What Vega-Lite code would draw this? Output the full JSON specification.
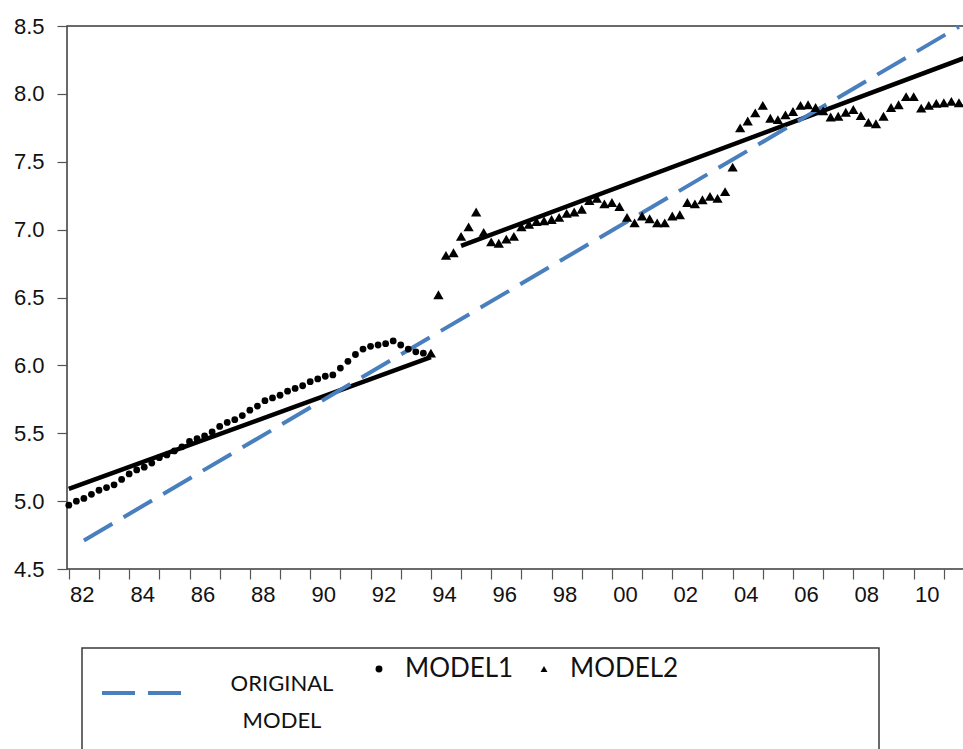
{
  "$schema": "https://vega.github.io/schema/vega-lite/v6.json",
  "autosize": {"type": "pad"},
  "padding": {"left": 11, "top": 14, "right": 0, "bottom": 0},
  "background": "white",
  "columns": 1,
  "bounds": "full",
  "spacing": 41,
  "config": {
    "font": "Liberation Sans",
    "view": {"stroke": "#3a3a3a", "strokeWidth": 1.5},
    "axis": {
      "domainColor": "#3a3a3a", "domainWidth": 1.5, "tickColor": "#555555", "tickWidth": 1.2,
      "tickSize": 10, "labelFont": "Liberation Sans", "labelFontSize": 22, "labelColor": "#111111",
      "grid": false, "title": null
    },
    "legend": {"padding": 0, "title": null, "labelColor": "#111111"}
  },
  "datasets": {
    "orig": [
      {"t": 1982.5, "v": 4.71, "series": "ORIGINAL MODEL"},
      {"t": 2011.5, "v": 8.495, "series": "ORIGINAL MODEL"}
    ],
    "fit": [
      {"t": 1982.0, "v": 5.09, "seg": "A"},
      {"t": 1994.0, "v": 6.06, "seg": "A"},
      {"t": 1995.0, "v": 6.88, "seg": "B"},
      {"t": 2011.75, "v": 8.27, "seg": "B"}
    ],
    "m1": [
      {"t": 1982.00, "v": 4.97, "series": "MODEL1"},
      {"t": 1982.25, "v": 5.00, "series": "MODEL1"},
      {"t": 1982.50, "v": 5.02, "series": "MODEL1"},
      {"t": 1982.75, "v": 5.05, "series": "MODEL1"},
      {"t": 1983.00, "v": 5.08, "series": "MODEL1"},
      {"t": 1983.25, "v": 5.10, "series": "MODEL1"},
      {"t": 1983.50, "v": 5.12, "series": "MODEL1"},
      {"t": 1983.75, "v": 5.16, "series": "MODEL1"},
      {"t": 1984.00, "v": 5.20, "series": "MODEL1"},
      {"t": 1984.25, "v": 5.23, "series": "MODEL1"},
      {"t": 1984.50, "v": 5.25, "series": "MODEL1"},
      {"t": 1984.75, "v": 5.28, "series": "MODEL1"},
      {"t": 1985.00, "v": 5.32, "series": "MODEL1"},
      {"t": 1985.25, "v": 5.34, "series": "MODEL1"},
      {"t": 1985.50, "v": 5.37, "series": "MODEL1"},
      {"t": 1985.75, "v": 5.40, "series": "MODEL1"},
      {"t": 1986.00, "v": 5.44, "series": "MODEL1"},
      {"t": 1986.25, "v": 5.46, "series": "MODEL1"},
      {"t": 1986.50, "v": 5.48, "series": "MODEL1"},
      {"t": 1986.75, "v": 5.51, "series": "MODEL1"},
      {"t": 1987.00, "v": 5.55, "series": "MODEL1"},
      {"t": 1987.25, "v": 5.58, "series": "MODEL1"},
      {"t": 1987.50, "v": 5.60, "series": "MODEL1"},
      {"t": 1987.75, "v": 5.63, "series": "MODEL1"},
      {"t": 1988.00, "v": 5.67, "series": "MODEL1"},
      {"t": 1988.25, "v": 5.70, "series": "MODEL1"},
      {"t": 1988.50, "v": 5.74, "series": "MODEL1"},
      {"t": 1988.75, "v": 5.76, "series": "MODEL1"},
      {"t": 1989.00, "v": 5.78, "series": "MODEL1"},
      {"t": 1989.25, "v": 5.81, "series": "MODEL1"},
      {"t": 1989.50, "v": 5.83, "series": "MODEL1"},
      {"t": 1989.75, "v": 5.85, "series": "MODEL1"},
      {"t": 1990.00, "v": 5.88, "series": "MODEL1"},
      {"t": 1990.25, "v": 5.90, "series": "MODEL1"},
      {"t": 1990.50, "v": 5.92, "series": "MODEL1"},
      {"t": 1990.75, "v": 5.93, "series": "MODEL1"},
      {"t": 1991.00, "v": 5.98, "series": "MODEL1"},
      {"t": 1991.25, "v": 6.03, "series": "MODEL1"},
      {"t": 1991.50, "v": 6.08, "series": "MODEL1"},
      {"t": 1991.75, "v": 6.12, "series": "MODEL1"},
      {"t": 1992.00, "v": 6.14, "series": "MODEL1"},
      {"t": 1992.25, "v": 6.15, "series": "MODEL1"},
      {"t": 1992.50, "v": 6.16, "series": "MODEL1"},
      {"t": 1992.75, "v": 6.18, "series": "MODEL1"},
      {"t": 1993.00, "v": 6.15, "series": "MODEL1"},
      {"t": 1993.25, "v": 6.12, "series": "MODEL1"},
      {"t": 1993.50, "v": 6.10, "series": "MODEL1"},
      {"t": 1993.75, "v": 6.09, "series": "MODEL1"}
    ],
    "m2": [
      {"t": 1994.00, "v": 6.09, "series": "MODEL2"},
      {"t": 1994.25, "v": 6.52, "series": "MODEL2"},
      {"t": 1994.50, "v": 6.81, "series": "MODEL2"},
      {"t": 1994.75, "v": 6.83, "series": "MODEL2"},
      {"t": 1995.00, "v": 6.95, "series": "MODEL2"},
      {"t": 1995.25, "v": 7.02, "series": "MODEL2"},
      {"t": 1995.50, "v": 7.13, "series": "MODEL2"},
      {"t": 1995.75, "v": 6.98, "series": "MODEL2"},
      {"t": 1996.00, "v": 6.91, "series": "MODEL2"},
      {"t": 1996.25, "v": 6.90, "series": "MODEL2"},
      {"t": 1996.50, "v": 6.93, "series": "MODEL2"},
      {"t": 1996.75, "v": 6.95, "series": "MODEL2"},
      {"t": 1997.00, "v": 7.02, "series": "MODEL2"},
      {"t": 1997.25, "v": 7.04, "series": "MODEL2"},
      {"t": 1997.50, "v": 7.06, "series": "MODEL2"},
      {"t": 1997.75, "v": 7.065, "series": "MODEL2"},
      {"t": 1998.00, "v": 7.075, "series": "MODEL2"},
      {"t": 1998.25, "v": 7.09, "series": "MODEL2"},
      {"t": 1998.50, "v": 7.12, "series": "MODEL2"},
      {"t": 1998.75, "v": 7.13, "series": "MODEL2"},
      {"t": 1999.00, "v": 7.15, "series": "MODEL2"},
      {"t": 1999.25, "v": 7.215, "series": "MODEL2"},
      {"t": 1999.50, "v": 7.23, "series": "MODEL2"},
      {"t": 1999.75, "v": 7.19, "series": "MODEL2"},
      {"t": 2000.00, "v": 7.20, "series": "MODEL2"},
      {"t": 2000.25, "v": 7.17, "series": "MODEL2"},
      {"t": 2000.50, "v": 7.09, "series": "MODEL2"},
      {"t": 2000.75, "v": 7.05, "series": "MODEL2"},
      {"t": 2001.00, "v": 7.10, "series": "MODEL2"},
      {"t": 2001.25, "v": 7.08, "series": "MODEL2"},
      {"t": 2001.50, "v": 7.05, "series": "MODEL2"},
      {"t": 2001.75, "v": 7.05, "series": "MODEL2"},
      {"t": 2002.00, "v": 7.10, "series": "MODEL2"},
      {"t": 2002.25, "v": 7.11, "series": "MODEL2"},
      {"t": 2002.50, "v": 7.20, "series": "MODEL2"},
      {"t": 2002.75, "v": 7.19, "series": "MODEL2"},
      {"t": 2003.00, "v": 7.22, "series": "MODEL2"},
      {"t": 2003.25, "v": 7.245, "series": "MODEL2"},
      {"t": 2003.50, "v": 7.23, "series": "MODEL2"},
      {"t": 2003.75, "v": 7.28, "series": "MODEL2"},
      {"t": 2004.00, "v": 7.46, "series": "MODEL2"},
      {"t": 2004.25, "v": 7.75, "series": "MODEL2"},
      {"t": 2004.50, "v": 7.80, "series": "MODEL2"},
      {"t": 2004.75, "v": 7.86, "series": "MODEL2"},
      {"t": 2005.00, "v": 7.915, "series": "MODEL2"},
      {"t": 2005.25, "v": 7.82, "series": "MODEL2"},
      {"t": 2005.50, "v": 7.81, "series": "MODEL2"},
      {"t": 2005.75, "v": 7.845, "series": "MODEL2"},
      {"t": 2006.00, "v": 7.87, "series": "MODEL2"},
      {"t": 2006.25, "v": 7.915, "series": "MODEL2"},
      {"t": 2006.50, "v": 7.92, "series": "MODEL2"},
      {"t": 2006.75, "v": 7.90, "series": "MODEL2"},
      {"t": 2007.00, "v": 7.875, "series": "MODEL2"},
      {"t": 2007.25, "v": 7.83, "series": "MODEL2"},
      {"t": 2007.50, "v": 7.835, "series": "MODEL2"},
      {"t": 2007.75, "v": 7.865, "series": "MODEL2"},
      {"t": 2008.00, "v": 7.885, "series": "MODEL2"},
      {"t": 2008.25, "v": 7.84, "series": "MODEL2"},
      {"t": 2008.50, "v": 7.79, "series": "MODEL2"},
      {"t": 2008.75, "v": 7.78, "series": "MODEL2"},
      {"t": 2009.00, "v": 7.835, "series": "MODEL2"},
      {"t": 2009.25, "v": 7.90, "series": "MODEL2"},
      {"t": 2009.50, "v": 7.92, "series": "MODEL2"},
      {"t": 2009.75, "v": 7.98, "series": "MODEL2"},
      {"t": 2010.00, "v": 7.98, "series": "MODEL2"},
      {"t": 2010.25, "v": 7.895, "series": "MODEL2"},
      {"t": 2010.50, "v": 7.915, "series": "MODEL2"},
      {"t": 2010.75, "v": 7.93, "series": "MODEL2"},
      {"t": 2011.00, "v": 7.935, "series": "MODEL2"},
      {"t": 2011.25, "v": 7.945, "series": "MODEL2"},
      {"t": 2011.50, "v": 7.935, "series": "MODEL2"},
      {"t": 2011.75, "v": 7.94, "series": "MODEL2"}
    ]
  },
  "concat": [
    {
      "width": 904,
      "height": 543,
      "encoding": {
        "x": {
          "field": "t", "type": "quantitative",
          "scale": {"domain": [1981.94, 2011.9], "nice": false, "zero": false},
          "axis": {
            "values": [1982,1983,1984,1985,1986,1987,1988,1989,1990,1991,1992,1993,1994,1995,1996,1997,1998,1999,2000,2001,2002,2003,2004,2005,2006,2007,2008,2009,2010,2011],
            "labelExpr": "datum.value % 2 == 0 ? slice(toString(datum.value), 2) : ''",
            "labelOffset": 13, "labelPadding": 5, "labelOverlap": false, "labelFlush": false,
            "labelBound": false, "domain": false
          }
        },
        "y": {
          "field": "v", "type": "quantitative",
          "scale": {"domain": [4.5, 8.5], "nice": false, "zero": false},
          "axis": {
            "values": [4.5, 5.0, 5.5, 6.0, 6.5, 7.0, 7.5, 8.0, 8.5],
            "format": ".1f", "labelPadding": 13, "domain": false,
            "minExtent": 55, "maxExtent": 55
          }
        }
      },
      "layer": [
        {
          "data": {"name": "fit"},
          "mark": {"type": "line", "color": "#000000", "strokeWidth": 4.5, "strokeCap": "butt"},
          "encoding": {"detail": {"field": "seg", "type": "nominal"}}
        },
        {
          "data": {"name": "orig"},
          "mark": {"type": "line", "color": "#4a7fbd", "strokeWidth": 4, "strokeCap": "butt"},
          "encoding": {
            "strokeDash": {
              "field": "series", "type": "nominal",
              "scale": {"domain": ["ORIGINAL MODEL"], "range": [[33, 13]]},
              "legend": {
                "orient": "none", "legendX": 33, "legendY": 625,
                "symbolType": "stroke", "symbolSize": 6400, "symbolStrokeWidth": 4,
                "symbolStrokeColor": "#4a7fbd",
                "labelOffset": 98, "labelAlign": "center",
                "labelFont": "Lato", "labelFontSize": 22,
                "labelExpr": "['ORIGINAL', 'MODEL']", "labelLimit": 300,
                "encode": {"labels": {"update": {"lineHeight": {"value": 37}, "dy": {"value": -9}}}}
              }
            }
          }
        },
        {
          "data": {"name": "m1"},
          "mark": {"type": "point", "filled": true, "color": "#000000", "opacity": 1, "size": 46},
          "encoding": {
            "shape": {
              "field": "series", "type": "nominal",
              "scale": {"domain": ["MODEL1", "MODEL2"], "range": ["circle", "triangle-up"]},
              "legend": {
                "orient": "none", "legendX": 299, "legendY": 630,
                "direction": "horizontal", "columns": 2, "columnPadding": 17,
                "symbolSize": 48, "symbolFillColor": "#000000", "symbolStrokeWidth": 0,
                "labelOffset": 13, "labelFont": "Lato", "labelFontSize": 26,
                "labelLimit": 300
              }
            }
          }
        },
        {
          "data": {"name": "m2"},
          "mark": {"type": "point", "filled": true, "color": "#000000", "opacity": 1, "size": 105},
          "encoding": {
            "shape": {
              "field": "series", "type": "nominal",
              "scale": {"domain": ["MODEL1", "MODEL2"], "range": ["circle", "triangle-up"]},
              "legend": {
                "orient": "none", "legendX": 299, "legendY": 630,
                "direction": "horizontal", "columns": 2, "columnPadding": 17,
                "symbolSize": 48, "symbolFillColor": "#000000", "symbolStrokeWidth": 0,
                "labelOffset": 13, "labelFont": "Lato", "labelFontSize": 26,
                "labelLimit": 300
              }
            }
          }
        }
      ]
    },
    {
      "spacing": 13,
      "hconcat": [
        {
          "width": 1,
          "height": 1,
          "view": {"stroke": null},
          "data": {"values": []},
          "mark": "point",
          "encoding": {}
        },
        {
          "width": 797,
          "height": 130,
          "data": {"values": []},
          "mark": "point",
          "encoding": {
            "x": {"field": "a", "type": "quantitative", "axis": null},
            "y": {"field": "b", "type": "quantitative", "axis": null}
          }
        }
      ]
    }
  ]
}
